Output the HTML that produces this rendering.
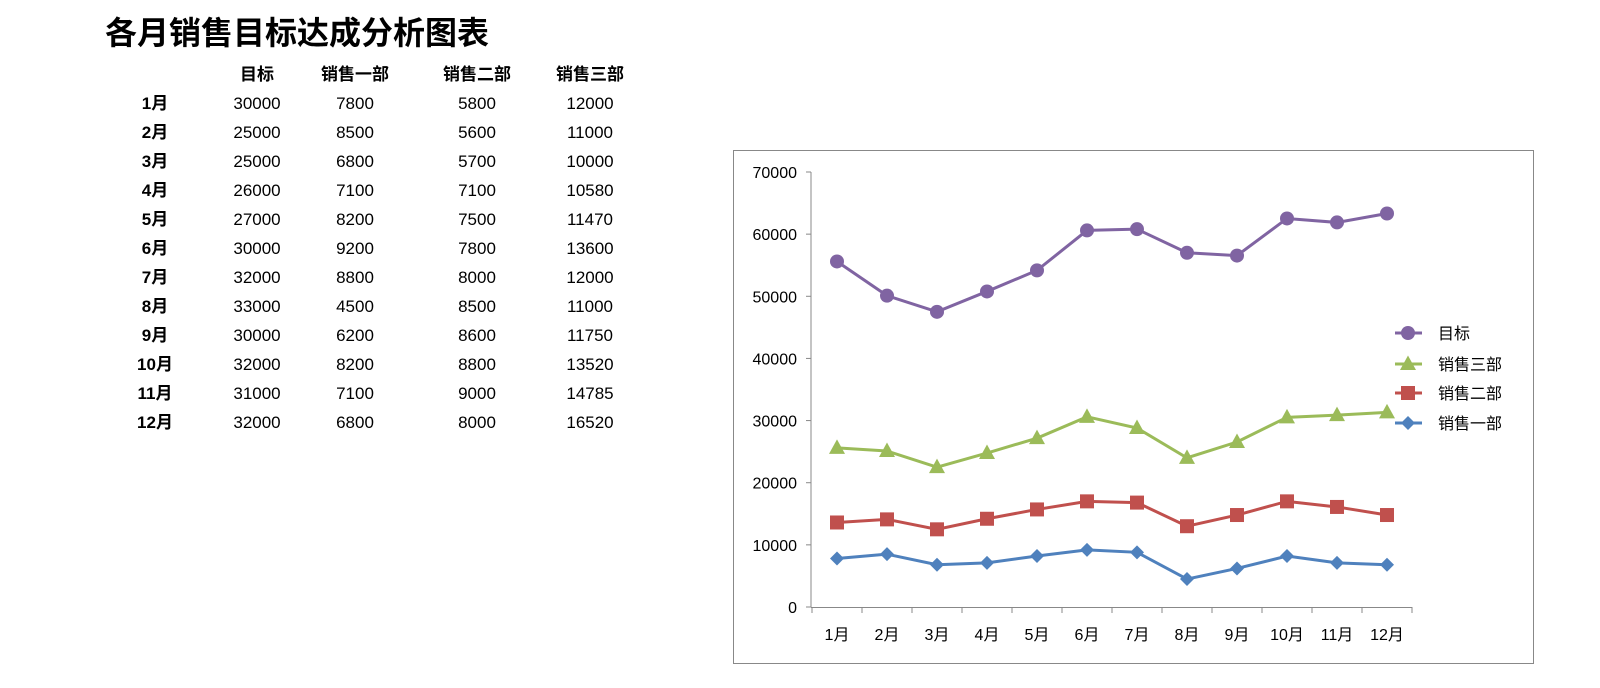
<!DOCTYPE html>
<html><head><meta charset="utf-8"><style>
body{margin:0;width:1600px;height:683px;background:#fff;overflow:hidden;font-family:"Liberation Sans","Noto Sans CJK SC",sans-serif;}
</style></head><body>
<svg id="s" width="1600" height="683" xmlns="http://www.w3.org/2000/svg" font-family="Liberation Sans, Noto Sans CJK SC, sans-serif">
<text x="105" y="44" font-size="32" font-weight="bold" fill="#000">各月销售目标达成分析图表</text>
<rect x="733.5" y="150.5" width="800" height="513" fill="#fff" stroke="#888" stroke-width="1"/>
</svg>
<script>
const s=document.getElementById('s');const NS='http://www.w3.org/2000/svg';
function el(t,a,txt){const e=document.createElementNS(NS,t);for(const k in a)e.setAttribute(k,a[k]);if(txt!==undefined)e.textContent=txt;s.appendChild(e);return e;}
const months=['1月','2月','3月','4月','5月','6月','7月','8月','9月','10月','11月','12月'];
const T=[30000,25000,25000,26000,27000,30000,32000,33000,30000,32000,31000,32000];
const A=[7800,8500,6800,7100,8200,9200,8800,4500,6200,8200,7100,6800];
const B=[5800,5600,5700,7100,7500,7800,8000,8500,8600,8800,9000,8000];
const C=[12000,11000,10000,10580,11470,13600,12000,11000,11750,13520,14785,16520];
const cols=[257,355,477,590];
['目标','销售一部','销售二部','销售三部'].forEach((h,i)=>el('text',{x:cols[i],y:80,'font-size':17,'font-weight':'bold','text-anchor':'middle'},h));
for(let r=0;r<12;r++){const y=109+r*29;
el('text',{x:155,y:y,'font-size':17,'font-weight':'bold','text-anchor':'middle'},months[r]);
[T[r],A[r],B[r],C[r]].forEach((v,i)=>el('text',{x:cols[i],y:y,'font-size':17,'text-anchor':'middle'},v));}
const Y=v=>607-v*435/70000, X=i=>837+i*50;
el('line',{x1:811,y1:172,x2:811,y2:607.5,stroke:'#888'});
el('line',{x1:811,y1:607.5,x2:1412,y2:607.5,stroke:'#888'});
for(let k=0;k<=7;k++){const y=Y(k*10000);el('line',{x1:806,y1:y,x2:811,y2:y,stroke:'#888'});
el('text',{x:797,y:y+6,'font-size':16,'text-anchor':'end'},k*10000);}
for(let i=0;i<=12;i++){const x=812+i*50;el('line',{x1:x,y1:607,x2:x,y2:613,stroke:'#888'});}
months.forEach((m,i)=>el('text',{x:X(i),y:640,'font-size':16,'text-anchor':'middle'},m));
const s1=A,s2=A.map((v,i)=>v+B[i]),s3=s2.map((v,i)=>v+C[i]),s4=s3.map((v,i)=>v+T[i]);
function mk(type,x,y,c){if(type=='c')el('circle',{cx:x,cy:y,r:7,fill:c});
else if(type=='t')el('polygon',{points:`${x},${y-8.5} ${x+8},${y+6} ${x-8},${y+6}`,fill:c});
else if(type=='s')el('rect',{x:x-7,y:y-7,width:14,height:14,fill:c});
else el('polygon',{points:`${x},${y-7} ${x+7},${y} ${x},${y+7} ${x-7},${y}`,fill:c});}
[[s4,'#8064A2','c'],[s3,'#9BBB59','t'],[s2,'#C0504D','s'],[s1,'#4F81BD','d']].forEach(([d,c,t])=>{
el('polyline',{points:d.map((v,i)=>X(i)+','+Y(v)).join(' '),fill:'none',stroke:c,'stroke-width':3});
d.forEach((v,i)=>mk(t,X(i),Y(v),c));});
[['目标','#8064A2','c',333],['销售三部','#9BBB59','t',364],['销售二部','#C0504D','s',393],['销售一部','#4F81BD','d',423]].forEach(([n,c,t,y])=>{
el('line',{x1:1395,y1:y,x2:1422,y2:y,stroke:c,'stroke-width':3});mk(t,1408,y,c);
el('text',{x:1438,y:y+6,'font-size':16},n);});
</script>
</body></html>
